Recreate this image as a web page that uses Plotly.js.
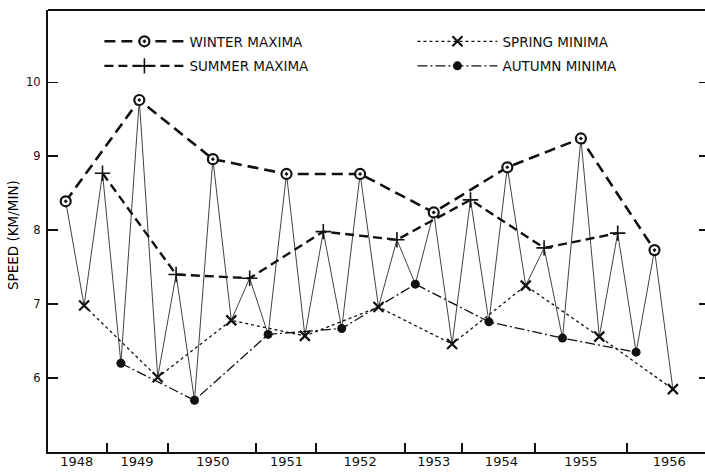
<!DOCTYPE html>
<html>
<head>
<meta charset="utf-8">
<script src="https://cdn.plot.ly/plotly-3.0.1.min.js"></script>
<style>html,body{margin:0;padding:0;background:#fff;}#chart{width:705px;height:473px;}</style>
</head>
<body>
<div id="chart"></div>
<script>
// Seasonal speeds (km/min); winter at year.00, spring .25, summer .50, autumn .75
const winterYears = [1948, 1949, 1950, 1951, 1952, 1953, 1954, 1955, 1956];
const winterMaxima = [8.39, 9.76, 8.96, 8.76, 8.76, 8.24, 8.85, 9.24, 7.73];
const springYears = [1948.25, 1949.25, 1950.25, 1951.25, 1952.25, 1953.25, 1954.25, 1955.25, 1956.25];
const springMinima = [6.98, 6.01, 6.78, 6.57, 6.96, 6.46, 7.25, 6.56, 5.85];
const summerYears = [1948.5, 1949.5, 1950.5, 1951.5, 1952.5, 1953.5, 1954.5, 1955.5];
const summerMaxima = [8.77, 7.40, 7.35, 7.98, 7.87, 8.41, 7.76, 7.96];
const autumnYears = [1948.75, 1949.75, 1950.75, 1951.75, 1952.75, 1953.75, 1954.75, 1955.75];
const autumnMinima = [6.20, 5.70, 6.59, 6.67, 7.27, 6.76, 6.54, 6.35];

const yearLabels = ['1948', '1949', '1950', '1951', '1952', '1953', '1954', '1955', '1956'];
const yearLabelPos = [1948.15, 1948.97, 1950.0, 1951.0, 1952.0, 1953.0, 1953.92, 1955.0, 1956.2];
const xTickPos = [1948.557, 1949.394, 1950.581, 1951.397, 1952.61, 1953.38, 1954.376, 1955.63];
const yTicks = [6, 7, 8, 9, 10];
const yTitle = 'SPEED (KM/MIN)';

// chronological sequence of all seasonal values (thin zigzag line)
const allSeries = [[winterYears, winterMaxima], [springYears, springMinima], [summerYears, summerMaxima], [autumnYears, autumnMinima]];
let seq = [];
allSeries.forEach(s => s[0].forEach((x, i) => seq.push([x, s[1][i]])));
seq.sort((a, b) => a[0] - b[0]);
const seqX = seq.map(p => p[0]);
const seqY = seq.map(p => p[1]);

const FONT = 'DejaVu Sans, Liberation Sans, sans-serif';
const INK = '#111';

const traces = [
  {x: seqX, y: seqY, mode: 'lines', line: {color: INK, width: 0.8}, showlegend: false, hoverinfo: 'skip'},
  {x: winterYears, y: winterMaxima, name: 'WINTER MAXIMA', mode: 'lines+markers', legend: 'legend', legendgroup: 'winter',
   line: {color: INK, width: 2.6, dash: '11px,6px'},
   marker: {symbol: 'circle-dot', size: 10, color: '#fff', line: {color: INK, width: 2.2}}},
  {x: summerYears, y: summerMaxima, name: 'SUMMER MAXIMA', mode: 'lines+markers', legend: 'legend', legendgroup: 'summer',
   line: {color: INK, width: 2.4, dash: '9px,5px'},
   marker: {symbol: 'cross-thin', size: 11, color: INK, line: {color: INK, width: 1.6}}},
  {x: springYears, y: springMinima, name: 'SPRING MINIMA', mode: 'lines+markers', legend: 'legend2', legendgroup: 'spring',
   line: {color: INK, width: 1.3, dash: '3px,3px'},
   marker: {symbol: 'x-thin', size: 10, color: INK, line: {color: INK, width: 2.2}}},
  {x: autumnYears, y: autumnMinima, name: 'AUTUMN MINIMA', mode: 'lines+markers', legend: 'legend2', legendgroup: 'autumn',
   line: {color: INK, width: 1.3, dash: '10px,3px,2px,3px'},
   marker: {symbol: 'circle', size: 9, color: INK}},
  {x: winterYears, y: winterMaxima, xaxis: 'x2', yaxis: 'y2', mode: 'lines', opacity: 0,
   showlegend: false, hoverinfo: 'skip'}
];

const xRange = [1947.7595, 1956.686];
const yRange = [5, 10.977];

const layout = {
  width: 705, height: 473,
  margin: {l: 48, r: 0, t: 10, b: 21, autoexpand: false},
  paper_bgcolor: '#fff', plot_bgcolor: '#fff',
  font: {family: FONT, color: INK, size: 12},
  showlegend: true,
  xaxis: {
    range: xRange, showgrid: false, zeroline: false,
    showline: true, linecolor: INK, linewidth: 2,
    tickmode: 'array', tickvals: xTickPos, ticktext: xTickPos.map(() => ''),
    ticks: 'inside', ticklen: 9, tickwidth: 1.8, tickcolor: INK
  },
  xaxis2: {
    range: xRange, overlaying: 'x', anchor: 'y2', side: 'bottom',
    showgrid: false, zeroline: false, showline: false, tickangle: 0,
    tickmode: 'array', tickvals: yearLabelPos, ticktext: yearLabels,
    ticks: '', tickfont: {family: FONT, size: 13, color: INK}
  },
  yaxis: {
    range: yRange, showgrid: false, zeroline: false,
    showline: true, linecolor: INK, linewidth: 2,
    tickmode: 'array', tickvals: yTicks, ticktext: yTicks.map(String),
    ticks: 'inside', ticklen: 10, tickwidth: 1.5, tickcolor: INK, ticklabelstandoff: 3,
    tickfont: {family: FONT, size: 11.5, color: INK}
  },
  yaxis2: {
    range: yRange, overlaying: 'y', side: 'right', anchor: 'x2',
    showgrid: false, zeroline: false, showline: false,
    tickmode: 'array', tickvals: yTicks, showticklabels: false,
    ticks: 'inside', ticklen: 6, tickwidth: 1.5, tickcolor: INK
  },
  legend: {
    xref: 'container', yref: 'container', x: 0.141, y: 0.945, xanchor: 'left', yanchor: 'top',
    bgcolor: 'rgba(0,0,0,0)', borderwidth: 0, itemwidth: 80, traceorder: 'grouped',
    font: {family: FONT, size: 13.5, color: INK}, tracegroupgap: 4
  },
  legend2: {
    xref: 'container', yref: 'container', x: 0.585, y: 0.945, xanchor: 'left', yanchor: 'top',
    bgcolor: 'rgba(0,0,0,0)', borderwidth: 0, itemwidth: 80, traceorder: 'grouped',
    font: {family: FONT, size: 13.5, color: INK}, tracegroupgap: 4
  },
  annotations: [
    {text: yTitle, xref: 'paper', yref: 'paper', x: -0.0533, y: 0.491, xanchor: 'center', yanchor: 'middle',
     textangle: -90, showarrow: false, font: {family: FONT, size: 13.5, color: '#000'}}
  ],
  shapes: [
    {type: 'line', xref: 'paper', yref: 'paper', x0: 0, x1: 1, y0: 1, y1: 1, line: {color: INK, width: 2}}
  ]
};

Plotly.newPlot('chart', traces, layout, {staticPlot: true, displayModeBar: false});
</script>
</body>
</html>
